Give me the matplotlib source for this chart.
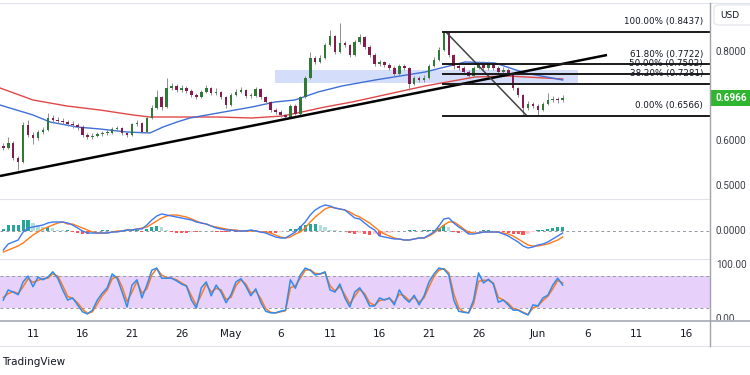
import matplotlib
matplotlib.use("Agg")
import matplotlib.pyplot as plt
import matplotlib.transforms as mtransforms
from matplotlib.lines import Line2D
from matplotlib.patches import Rectangle, FancyBboxPatch
import numpy as np

# 12h candles, first one on 8 Apr (day 7 = days since 1 Apr)
closes = [0.5853, 0.5964, 0.5630, 0.5541, 0.6365, 0.6142, 0.6076, 0.6209, 0.6254, 0.6521,
          0.6476, 0.6454, 0.6432, 0.6387, 0.6365, 0.6320, 0.6142, 0.6098, 0.6120, 0.6165,
          0.6187, 0.6187, 0.6276, 0.6298, 0.6187, 0.6142, 0.6387, 0.6410, 0.6209, 0.6521,
          0.6744, 0.6989, 0.6766, 0.7189, 0.7234, 0.7145, 0.7189, 0.7122, 0.7033, 0.6989,
          0.7100, 0.7189, 0.7078, 0.7100, 0.6989, 0.6810, 0.7033, 0.7100, 0.7145, 0.7011,
          0.7011, 0.7167, 0.6989, 0.6877, 0.6699, 0.6655, 0.6588, 0.6543, 0.6788, 0.6610,
          0.6989, 0.7412, 0.7857, 0.7768, 0.7857, 0.8147, 0.8347, 0.7991, 0.8191, 0.8147,
          0.7924, 0.8214, 0.8325, 0.8102, 0.7924, 0.7724, 0.7768, 0.7701, 0.7635, 0.7501,
          0.7679, 0.7635, 0.7278, 0.7412, 0.7367, 0.7412, 0.7679, 0.7813, 0.8035, 0.8420,
          0.7924, 0.7679, 0.7635, 0.7545, 0.7456, 0.7635, 0.7746, 0.7635, 0.7724, 0.7635,
          0.7545, 0.7590, 0.7501, 0.7189, 0.7033, 0.6744, 0.6833, 0.6788, 0.6699, 0.6833,
          0.6922, 0.6944, 0.6922, 0.6966]
highs = [0.5960, 0.6098, 0.6000, 0.5680, 0.6430, 0.6476, 0.6200, 0.6260, 0.6320, 0.6632,
         0.6580, 0.6540, 0.6520, 0.6480, 0.6450, 0.6420, 0.6360, 0.6190, 0.6180, 0.6220,
         0.6240, 0.6250, 0.6320, 0.6350, 0.6320, 0.6220, 0.6420, 0.6480, 0.6430, 0.6560,
         0.6800, 0.7145, 0.7020, 0.7412, 0.7300, 0.7280, 0.7260, 0.7230, 0.7160, 0.7080,
         0.7150, 0.7256, 0.7220, 0.7180, 0.7130, 0.7020, 0.7080, 0.7167, 0.7212, 0.7170,
         0.7070, 0.7212, 0.7190, 0.7020, 0.6900, 0.6740, 0.6690, 0.6620, 0.6840, 0.6830,
         0.7020, 0.7460, 0.7990, 0.7900, 0.7920, 0.8200, 0.8480, 0.8380, 0.8640, 0.8230,
         0.8180, 0.8260, 0.8390, 0.8350, 0.8140, 0.7960, 0.7820, 0.7800, 0.7740, 0.7670,
         0.7720, 0.7720, 0.7660, 0.7460, 0.7450, 0.7470, 0.7720, 0.7870, 0.8100, 0.8437,
         0.8430, 0.7950, 0.7720, 0.7680, 0.7580, 0.7680, 0.7800, 0.7780, 0.7790, 0.7760,
         0.7670, 0.7660, 0.7640, 0.7530, 0.7220, 0.7060, 0.6900, 0.6870, 0.6830, 0.6880,
         0.7080, 0.7000, 0.6990, 0.7040]
lows = [0.5800, 0.5820, 0.5590, 0.5363, 0.5520, 0.6100, 0.5940, 0.6040, 0.6170, 0.6230,
        0.6420, 0.6400, 0.6380, 0.6340, 0.6300, 0.6260, 0.6100, 0.6060, 0.6060, 0.6090,
        0.6130, 0.6140, 0.6160, 0.6240, 0.6150, 0.6100, 0.6120, 0.6340, 0.6180, 0.6190,
        0.6500, 0.6720, 0.6700, 0.6750, 0.7150, 0.7100, 0.7100, 0.7070, 0.6990, 0.6940,
        0.6960, 0.7080, 0.7040, 0.7040, 0.6950, 0.6744, 0.6790, 0.7000, 0.7080, 0.6970,
        0.6960, 0.6990, 0.6950, 0.6840, 0.6660, 0.6610, 0.6550, 0.6510, 0.6520, 0.6580,
        0.6590, 0.6970, 0.7400, 0.7720, 0.7740, 0.7830, 0.8120, 0.7950, 0.7960, 0.8100,
        0.7880, 0.7900, 0.8180, 0.8060, 0.7880, 0.7680, 0.7690, 0.7660, 0.7590, 0.7460,
        0.7480, 0.7590, 0.7150, 0.7250, 0.7320, 0.7330, 0.7390, 0.7650, 0.7790, 0.8010,
        0.7880, 0.7620, 0.7590, 0.7500, 0.7410, 0.7430, 0.7610, 0.7590, 0.7600, 0.7590,
        0.7500, 0.7510, 0.7450, 0.7140, 0.6980, 0.6566, 0.6700, 0.6740, 0.6588, 0.6680,
        0.6800, 0.6880, 0.6850, 0.6870]
first_open = 0.5900
last_price = 0.6966

# moving averages (read at a few points)
blue_ma_day = [6.67, 10.0, 11.72, 14.44, 16.77, 19.49, 21.82, 23.13, 24.55, 25.86, 28.69,
               32.12, 34.44, 36.46, 38.79, 41.21, 44.55, 49.60, 53.64, 56.67, 59.70, 63.5]
blue_ma = [0.6810, 0.6588, 0.6432, 0.6320, 0.6276, 0.6209, 0.6187, 0.6320, 0.6432, 0.6521, 0.6632,
           0.6766, 0.6877, 0.6922, 0.7100, 0.7234, 0.7367, 0.7545, 0.7768, 0.7746, 0.7523, 0.7367]
red_ma_day = [6.67, 10.0, 13.43, 16.77, 20.10, 21.82, 25.86, 28.69, 32.12, 35.15, 37.17,
              39.49, 42.22, 44.55, 49.60, 54.65, 57.98, 63.5]
red_ma = [0.7189, 0.6922, 0.6788, 0.6699, 0.6588, 0.6543, 0.6543, 0.6543, 0.6521, 0.6565, 0.6655,
          0.6766, 0.6877, 0.6989, 0.7234, 0.7434, 0.7456, 0.7390]

# drawings
trend_day = [6.67, 67.98]
trend_price = [0.5229, 0.7924]
zone_day = [34.44, 65.05]
zone_price = [0.7300, 0.7590]
fib_start_day = 51.4
fib_levels = [0.8437, 0.7722, 0.7502, 0.7281, 0.6566]
fib_labels = ["100.00% (0.8437)", "61.80% (0.7722)", "50.00% (0.7502)",
              "38.20% (0.7281)", "0.00% (0.6566)"]
fib_diag_day = [51.7, 59.9]
fib_diag_price = [0.8437, 0.6566]

# MACD
macd = [-0.019, -0.013, -0.011, -0.009, -0.001, 0.003, 0.004, 0.005, 0.006, 0.008,
        0.009, 0.009, 0.009, 0.008, 0.006, 0.003, 0.000, -0.002, -0.002, -0.002,
        -0.002, -0.002, -0.001, -0.001, 0.000, 0.001, 0.001, 0.002, 0.002, 0.006,
        0.011, 0.015, 0.017, 0.016, 0.015, 0.014, 0.013, 0.012, 0.011, 0.009,
        0.008, 0.007, 0.005, 0.003, 0.002, 0.001, 0.001, 0.000, 0.000, 0.000,
        0.001, 0.000, -0.001, -0.002, -0.004, -0.006, -0.007, -0.007, -0.004, -0.001,
        0.004, 0.009, 0.016, 0.021, 0.024, 0.026, 0.025, 0.023, 0.022, 0.021,
        0.017, 0.013, 0.012, 0.008, 0.004, 0.001, -0.005, -0.006, -0.007, -0.008,
        -0.008, -0.009, -0.009, -0.008, -0.007, -0.007, -0.004, -0.001, 0.005, 0.012,
        0.013, 0.008, 0.004, 0.001, -0.003, -0.003, -0.002, -0.001, -0.001, -0.001,
        -0.001, -0.003, -0.005, -0.008, -0.011, -0.015, -0.017, -0.016, -0.014, -0.013,
        -0.011, -0.008, -0.005, -0.002]
signal = [-0.021, -0.019, -0.017, -0.015, -0.012, -0.008, -0.004, -0.001, 0.002, 0.004,
          0.006, 0.008, 0.009, 0.007, 0.007, 0.005, 0.003, 0.001, -0.001, -0.002,
          -0.002, -0.002, -0.001, 0.000, 0.000, 0.001, 0.001, 0.002, 0.003, 0.004,
          0.007, 0.010, 0.013, 0.015, 0.016, 0.016, 0.015, 0.014, 0.012, 0.010,
          0.008, 0.007, 0.005, 0.004, 0.003, 0.002, 0.001, 0.001, 0.000, 0.000,
          0.000, 0.000, -0.001, -0.001, -0.002, -0.004, -0.006, -0.007, -0.006, -0.003,
          -0.001, 0.003, 0.009, 0.014, 0.018, 0.022, 0.024, 0.023, 0.022, 0.021,
          0.019, 0.016, 0.014, 0.011, 0.008, 0.004, 0.000, -0.003, -0.005, -0.007,
          -0.008, -0.009, -0.009, -0.008, -0.007, -0.007, -0.005, -0.002, 0.002, 0.006,
          0.009, 0.009, 0.006, 0.002, -0.001, -0.002, -0.002, -0.001, -0.001, -0.001,
          -0.001, -0.002, -0.003, -0.005, -0.008, -0.011, -0.014, -0.015, -0.015, -0.014,
          -0.013, -0.011, -0.009, -0.006]
hist = [0.002, 0.006, 0.006, 0.006, 0.011, 0.011, 0.008, 0.006, 0.004, 0.004,
        0.003, 0.001, 0.0005, 0.001, -0.001, -0.002, -0.003, -0.003, -0.001, -0.0005,
        0.0005, 0.0005, -0.0005, -0.001, -0.0005, 0.0005, 0.0005, 0.0005, -0.001, 0.002,
        0.004, 0.005, 0.004, 0.001, -0.001, -0.002, -0.002, -0.002, -0.001, -0.001,
        -0.0005, -0.0005, -0.0005, -0.001, -0.001, -0.001, 0.0005, -0.001, -0.0005, 0.0005,
        0.001, 0.0005, -0.0005, -0.001, -0.002, -0.002, -0.001, -0.0005, 0.002, 0.002,
        0.005, 0.006, 0.007, 0.007, 0.006, 0.004, 0.001, 0.0005, -0.0005, -0.0005,
        -0.002, -0.003, -0.002, -0.003, -0.004, -0.003, -0.005, -0.003, -0.002, -0.001,
        -0.0005, -0.0005, 0.0005, 0.0005, -0.0005, 0.0005, 0.001, 0.001, 0.003, 0.006,
        0.004, -0.001, -0.002, -0.001, -0.002, -0.001, -0.0005, 0.0005, 0.0005, -0.0005,
        -0.0005, -0.001, -0.002, -0.003, -0.003, -0.004, -0.003, -0.001, 0.001, 0.001,
        0.002, 0.003, 0.004, 0.004]

# Stoch RSI
stoch_k = [35, 54, 50, 45, 69, 80, 60, 78, 73, 78, 88, 76, 54, 35, 39, 26, 13, 9, 16, 35,
           48, 58, 84, 76, 50, 22, 63, 73, 39, 63, 91, 95, 76, 76, 76, 71, 65, 61, 35, 20,
           58, 69, 43, 63, 50, 30, 45, 69, 75, 61, 43, 56, 31, 14, 11, 11, 14, 16, 73, 57,
           82, 95, 91, 82, 84, 88, 54, 50, 65, 39, 22, 50, 58, 43, 24, 24, 39, 35, 39, 26,
           54, 39, 31, 44, 26, 43, 69, 84, 95, 93, 82, 35, 14, 12, 11, 35, 86, 67, 74, 65,
           31, 35, 26, 16, 16, 11, 7, 26, 24, 39, 44, 63, 76, 63]
stoch_d = [40, 47, 51, 47, 60, 75, 68, 72, 75, 76, 84, 80, 62, 42, 38, 30, 18, 10, 13, 28,
           43, 54, 75, 79, 60, 32, 50, 70, 48, 56, 82, 94, 82, 77, 76, 73, 67, 62, 43, 25,
           45, 65, 50, 57, 54, 36, 40, 62, 73, 65, 48, 52, 38, 19, 12, 11, 13, 15, 58, 62,
           76, 91, 92, 85, 84, 86, 62, 52, 60, 45, 28, 42, 55, 47, 30, 25, 34, 36, 38, 30,
           46, 43, 34, 40, 31, 39, 60, 79, 91, 94, 86, 47, 20, 13, 11, 28, 70, 72, 72, 67,
           40, 35, 29, 19, 17, 12, 8, 20, 24, 34, 42, 56, 72, 67]

tick_days = [10, 15, 20, 25, 30, 35, 40, 45, 50, 55, 61, 66, 71, 76]
tick_labels = ["11", "16", "21", "26", "May", "6", "11", "16", "21", "26", "Jun", "6", "11", "16"]

candle_day = 7.0 + 0.5 * np.arange(len(closes))
opens = [first_open] + closes[:-1]

W, H = 750, 375
fig = plt.figure(figsize=(7.5, 3.75), dpi=100)
fig.patch.set_facecolor("white")

plot_w = 710 / W
ax = fig.add_axes([0, 1 - 199 / H, plot_w, 196 / H])
ax_macd = fig.add_axes([0, 1 - 259 / H, plot_w, 60 / H], sharex=ax)
ax_st = fig.add_axes([0, 1 - 321 / H, plot_w, 62 / H], sharex=ax)

for a in (ax, ax_macd, ax_st):
    for s in a.spines.values():
        s.set_visible(False)
    a.tick_params(left=False, labelleft=False, bottom=False, labelbottom=False)
    a.set_facecolor("none")

ax.set_xlim(6.667, 78.38)
ax.set_ylim(0.4717, 0.9082)
ax_macd.set_ylim(-0.028, 0.032)
ax_st.set_ylim(-4.3, 112)

# --- main pane ---
ax.add_patch(Rectangle((zone_day[0], zone_price[0]), zone_day[1] - zone_day[0],
                       zone_price[1] - zone_price[0], color="#d4defa", zorder=1, lw=0))
ax.plot(red_ma_day, red_ma, color="#e04848", lw=1.0, zorder=3)
ax.plot(blue_ma_day, blue_ma, color="#3f6fd6", lw=1.0, zorder=3)

up = [c >= o for o, c in zip(opens, closes)]
ax.vlines(candle_day, lows, highs, color="#8f8f8f", lw=0.7, zorder=4)
body_h = [max(abs(c - o), 0.0012) for o, c in zip(opens, closes)]
body_b = [min(o, c) for o, c in zip(opens, closes)]
ax.bar(candle_day, body_h, bottom=body_b, width=0.26,
       color=["#2f7a34" if u else "#861b4e" for u in up], zorder=5, lw=0)

ax.plot(trend_day, trend_price, color="black", lw=1.8, zorder=6, solid_capstyle="butt")
ax.plot(fib_diag_day, fib_diag_price, color="#444444", lw=1.1, zorder=6)
for lvl, lab in zip(fib_levels, fib_labels):
    ax.plot([fib_start_day, 78.38], [lvl, lvl], color="#1a1a1a", lw=1.4, zorder=6)
    ax.annotate(lab, xy=(1.0, lvl), xycoords=("axes fraction", "data"),
                xytext=(-5, 7.2), textcoords="offset points", ha="right", va="center",
                fontsize=6.3, color="#131722", zorder=7)

# --- MACD pane ---
hist_cols = []
for i, h in enumerate(hist):
    prev = hist[i - 1] if i > 0 else 0
    if h >= 0:
        hist_cols.append("#26a69a" if h >= prev else "#b2dfdb")
    else:
        hist_cols.append("#ff5252" if h <= prev else "#ffcdd2")
ax_macd.bar(candle_day, hist, width=0.32, color=hist_cols, lw=0, zorder=2)
ax_macd.axhline(0, color="#9598a1", lw=0.7, ls=(0, (3, 3)), zorder=1)
ax_macd.plot(candle_day, signal, color="#ff7a1a", lw=1.0, zorder=3)
ax_macd.plot(candle_day, macd, color="#3d7af0", lw=1.0, zorder=4)

# --- Stoch RSI pane ---
ax_st.axhspan(20, 80, color="#e7d1fb", lw=0, zorder=0)
ax_st.axhline(80, color="#9598a1", lw=0.7, ls=(0, (3, 3)), zorder=1)
ax_st.axhline(20, color="#9598a1", lw=0.7, ls=(0, (3, 3)), zorder=1)
ax_st.plot(candle_day, stoch_d, color="#ff7a1a", lw=1.1, zorder=3)
ax_st.plot(candle_day, stoch_k, color="#2f8cf0", lw=1.1, zorder=4)

ax_st.set_xticks(tick_days)
ax_st.set_xticklabels(tick_labels)
ax_st.tick_params(axis="x", bottom=False, labelbottom=True, length=0, pad=6,
                  labelsize=7.5, labelcolor="#131722")

# --- right price scale ---
def rlabel(a, val, txt):
    tr = mtransforms.blended_transform_factory(a.transAxes, a.transData)
    a.text(716 / 710, val, txt, transform=tr, ha="left", va="center",
           fontsize=7.2, family="Roboto", color="#3c3f48", clip_on=False)

for v in (0.8, 0.6, 0.5):
    rlabel(ax, v, f"{v:.4f}")
rlabel(ax_macd, 0.0, "0.0000")
rlabel(ax_st, 100, "100.00")
rlabel(ax_st, 0, "0.00")

tr = mtransforms.blended_transform_factory(fig.transFigure, ax.transData)
ax.add_patch(Rectangle((711 / W, last_price - 0.0175), 39 / W, 0.035, transform=tr,
                       color="#2fb52f", lw=0, clip_on=False, zorder=8))
ax.text(715 / W, last_price, f"{last_price:.4f}", transform=tr, ha="left", va="center",
        fontsize=7.2, family="Roboto", color="white", fontweight="bold", clip_on=False, zorder=9)

fig.add_artist(FancyBboxPatch((714 / W, 1 - 25 / H), 40 / W, 20 / H,
                              boxstyle="round,pad=0,rounding_size=0.008",
                              transform=fig.transFigure, fc="white", ec="#e0e3eb", lw=0.8))
fig.text(720 / W, 1 - 16 / H, "USD", fontsize=6.5, color="#131722", va="center")

# separators / frame
def hline(y, x0=0, x1=W, color="#e0e3eb", lw=0.8):
    fig.add_artist(Line2D([x0 / W, x1 / W], [1 - y / H, 1 - y / H], color=color, lw=lw))

hline(3)
hline(199, x1=710)
hline(259, x1=710)
hline(321, color="#b2b5be", lw=1.4)
hline(346)
fig.add_artist(Line2D([710 / W, 710 / W], [1 - 346 / H, 1 - 3 / H], color="#a0a3ab", lw=1.0))

fig.text(2 / W, 1 - 362 / H, "TradingView", fontsize=7.5, color="#131722", va="center")

fig.savefig("out.png", dpi=100, facecolor="white")
